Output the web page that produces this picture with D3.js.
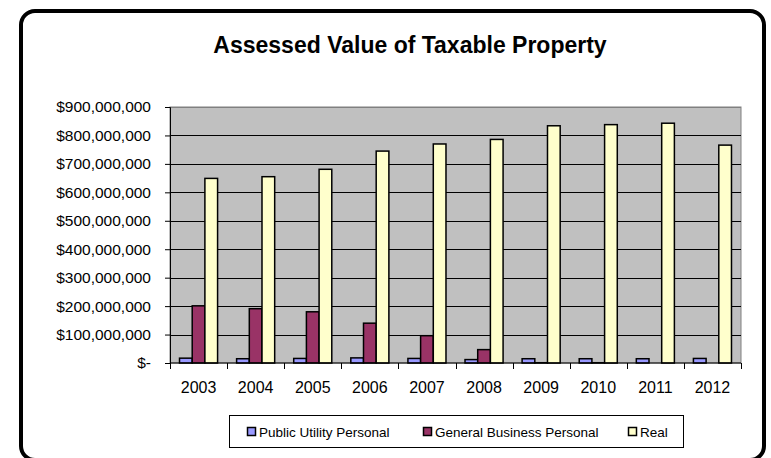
<!DOCTYPE html>
<html><head><meta charset="utf-8">
<script src="https://cdn.jsdelivr.net/npm/d3@7"></script>
<style>html,body{margin:0;padding:0;background:#fff;overflow:hidden;}svg{display:block;font-family:"Liberation Sans",Arial,sans-serif;}</style>
</head><body>
<script>
const years = ["2003","2004","2005","2006","2007","2008","2009","2010","2011","2012"];
const seriesNames = ["Public Utility Personal","General Business Personal","Real"];
const publicUtility = [17e6,15e6,16e6,18e6,16e6,12e6,15e6,15e6,15e6,16e6];
const generalBusiness = [201e6,191e6,180e6,140e6,96e6,47e6,1e6,1e6,0,0];
const realProperty = [649e6,655e6,681e6,745e6,770e6,786e6,834e6,838e6,843e6,766e6];
const colors = ["#9999FF","#993366","#FFFFCC"];
const yTicks = [0,1e8,2e8,3e8,4e8,5e8,6e8,7e8,8e8,9e8];

(function(){
const W=771,H=458;
const svg=d3.select("body").append("svg").attr("width",W).attr("height",H);
svg.append("rect").attr("x",21).attr("y",11).attr("width",743).attr("height",449)
  .attr("rx",14).attr("fill","#fff").attr("stroke","#000").attr("stroke-width",4);

svg.append("text").attr("x",410).attr("y",53).attr("text-anchor","middle")
  .attr("font-size",23).attr("font-weight","bold").text("Assessed Value of Taxable Property");

const pL=170,pR=741,pT=107,pB=363;
const x=d3.scaleBand().domain(years).range([pL,pR]).paddingInner(0).paddingOuter(0);
const y=d3.scaleLinear().domain([0,9e8]).range([pB,pT]);
const inner=d3.scaleBand().domain(seriesNames).range([0,x.bandwidth()]).paddingInner(0).paddingOuter(0.75);

svg.append("rect").attr("x",pL).attr("y",pT).attr("width",pR-pL).attr("height",pB-pT)
  .attr("fill","#C0C0C0").attr("stroke","#808080").attr("stroke-width",1);
svg.append("g").selectAll("line").data(yTicks.filter(d=>d>0)).join("line")
  .attr("x1",pL).attr("x2",pR).attr("y1",d=>Math.round(y(d))+0.5).attr("y2",d=>Math.round(y(d))+0.5)
  .attr("stroke",d=>d===9e8?"#808080":"#000").attr("stroke-width",1);

const fmt=d=>d===0?"$-":"$"+d3.format(",")(d);
const yAxis=svg.append("g").attr("transform",`translate(${pL},0)`)
  .call(d3.axisLeft(y).tickValues(yTicks).tickFormat(fmt).tickSize(5).tickPadding(14));
yAxis.attr("font-size",null).attr("font-family",null);
yAxis.selectAll("text").attr("font-size",15.5).attr("fill","#000");
yAxis.selectAll("line,path").attr("stroke","#000");

const data=[publicUtility,generalBusiness,realProperty];
const groups=svg.append("g").selectAll("g").data(years).join("g").attr("transform",d=>`translate(${x(d)},0)`);
groups.selectAll("rect").data((d,i)=>seriesNames.map((s,j)=>({s,v:data[j][i],j}))).join("rect")
  .attr("x",d=>inner(d.s)).attr("width",inner.bandwidth())
  .attr("y",d=>y(d.v)).attr("height",d=>pB-y(d.v))
  .attr("fill",d=>colors[d.j]).attr("stroke","#000").attr("stroke-width",1.5);

const xAxisG=svg.append("g").attr("transform",`translate(0,${pB})`);
xAxisG.append("line").attr("x1",pL).attr("x2",pR).attr("y1",0).attr("y2",0).attr("stroke","#000");
const edges=years.map(d=>x(d)).concat([pR]);
xAxisG.selectAll("line.t").data(edges).join("line").attr("class","t")
  .attr("x1",d=>Math.round(d)+0.5).attr("x2",d=>Math.round(d)+0.5).attr("y1",0).attr("y2",6).attr("stroke","#000");
xAxisG.selectAll("text").data(years).join("text")
  .attr("x",d=>x(d)+x.bandwidth()/2).attr("y",30).attr("text-anchor","middle")
  .attr("font-size",16).text(d=>d);

const lg=svg.append("g");
lg.append("rect").attr("x",229.5).attr("y",415.5).attr("width",454).attr("height",32)
  .attr("fill","#fff").attr("stroke","#000").attr("stroke-width",1);
const legX=[247,423,628];
seriesNames.forEach((s,i)=>{
  lg.append("rect").attr("x",legX[i]+0.5).attr("y",427.5).attr("width",8).attr("height",8)
    .attr("fill",colors[i]).attr("stroke","#000").attr("stroke-width",1.5);
  lg.append("text").attr("x",legX[i]+12).attr("y",436.5).attr("font-size",13.5).text(s);
});
})();
</script>
</body></html>
